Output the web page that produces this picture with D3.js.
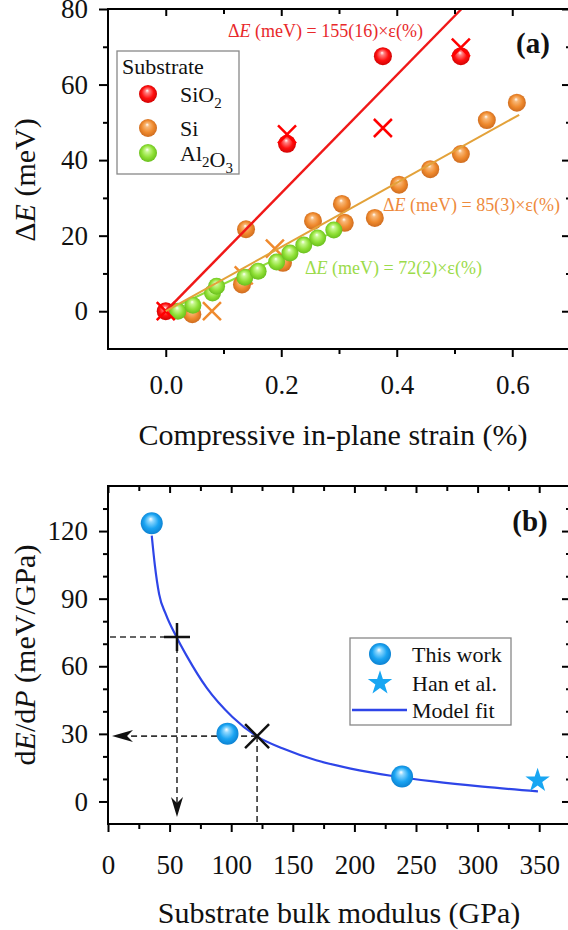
<!DOCTYPE html>
<html><head><meta charset="utf-8">
<script src="https://cdn.jsdelivr.net/npm/d3@7"></script>
</head><body style="margin:0">
<svg id="c" width="568" height="930" style="display:block;background:#fff"></svg>
<script>
// ---------- Panel (a) data ----------
const sio2Strain = [0, 0.21, 0.376, 0.511];
const sio2DE = [0, 44.3, 67.5, 67.5];
const sio2CrossStrain = [0, 0.21, 0.376, 0.511];
const sio2CrossDE = [0, 46.8, 48.5, 69.8];
const siStrain = [0.046, 0.132, 0.139, 0.203, 0.255, 0.305, 0.31, 0.362, 0.404, 0.458, 0.511, 0.556, 0.608];
const siDE = [-0.8, 7.1, 21.7, 12.8, 23.9, 28.4, 23.4, 24.7, 33.5, 37.6, 41.6, 50.6, 55.2];
const siCrossStrain = [0.08, 0.135, 0.189];
const siCrossDE = [0, 9.5, 16.6];
const al2o3Strain = [0.021, 0.047, 0.081, 0.088, 0.137, 0.16, 0.192, 0.215, 0.239, 0.263, 0.291];
const al2o3DE = [0, 1.6, 4.8, 6.6, 9.0, 10.6, 13.0, 15.4, 17.5, 19.4, 21.5];
// fit lines: [start strain, start dE, end strain, end dE]
const fitSiO2 = [0, 0, 0.512, 80];
const fitSi = [0, 0, 0.612, 52];
const fitAl2O3 = [0, 0, 0.291, 21];
const fitLabels = ["155(16)", "85(3)", "72(2)"];
const xTicksA = [0, 0.2, 0.4, 0.6];
const xMinorA = [0.1, 0.3, 0.5];
const yTicksA = [0, 20, 40, 60, 80];
const yMinorA = [10, 30, 50, 70];

// ---------- Panel (b) data ----------
const thisWorkModulus = [35.5, 97, 238.7];
const thisWorkSlope = [123.5, 30.1, 11.1];
const hanModulus = [348.7];
const hanSlope = [9.3];
const fitModulus = [35.5, 38, 41.5, 47, 55.6, 64, 80, 101, 120.5, 142, 169, 197, 231, 264, 304, 349];
const fitSlope = [118, 105, 92, 83, 73, 64.5, 50.5, 37.5, 29, 23.5, 18.3, 14.6, 11.3, 8.9, 6.6, 4.5];
const guideModulus = [56, 121];
const guideSlope = [73, 29];
const xTicksB = [0, 50, 100, 150, 200, 250, 300, 350];
const xMinorB = [25, 75, 125, 175, 225, 275, 325];
const yTicksB = [0, 30, 60, 90, 120];
const yMinorB = [10, 20, 40, 50, 70, 80, 100, 110, 130];

const SERIF = ["Liberation Serif", "Tinos", "Times New Roman", "FreeSerif"].map(f => `"${f}"`).join(", ") + ", cursive";
const svg = d3.select("#c");
const defs = svg.append("defs");
function sphere(id, light, base, dark) {
  const g = defs.append("radialGradient").attr("id", id)
    .attr("cx", "50%").attr("cy", "50%").attr("r", "55%").attr("fx", "45%").attr("fy", "30%");
  [["0%", "#ffffff"], ["20%", light], ["60%", base], ["100%", dark]].forEach(s =>
    g.append("stop").attr("offset", s[0]).attr("stop-color", s[1]));
}
sphere("gRed", "#ff8080", "#ff1010", "#c80000");
sphere("gOrg", "#f8b878", "#ef8a2e", "#c8661c");
sphere("gGrn", "#c8f890", "#8fe036", "#62b818");
sphere("gBlu", "#8fd8ff", "#1aa4f2", "#0a7ccc");

function drawAxes(x, y, xMaj, xMin, yMaj, yMin, xFmt, padB, padL) {
  const [x0, x1] = x.range(), [yb, yt] = y.range();
  const style = s => {
    s.select(".domain").remove();
    s.attr("font-family", null).attr("font-size", null);
    s.selectAll("line").attr("stroke", "#000").attr("stroke-width", 2);
    s.selectAll("text").style("font-size", "27px").attr("fill", "#111");
  };
  svg.append("g").attr("transform", `translate(0,${yb})`)
    .call(d3.axisBottom(x).tickValues(xMaj).tickSize(8).tickPadding(padB).tickFormat(xFmt)).call(style);
  svg.append("g").attr("transform", `translate(0,${yb})`)
    .call(d3.axisBottom(x).tickValues(xMin).tickSize(5).tickFormat("")).call(style);
  svg.append("g").attr("transform", `translate(0,${yt})`)
    .call(d3.axisTop(x).tickValues(xMaj).tickSize(-7).tickFormat("")).call(style);
  svg.append("g").attr("transform", `translate(0,${yt})`)
    .call(d3.axisTop(x).tickValues(xMin).tickSize(-5).tickFormat("")).call(style);
  svg.append("g").attr("transform", `translate(${x0},0)`)
    .call(d3.axisLeft(y).tickValues(yMaj).tickSize(9).tickPadding(padL).tickFormat(d3.format("d"))).call(style);
  svg.append("g").attr("transform", `translate(${x0},0)`)
    .call(d3.axisLeft(y).tickValues(yMin).tickSize(5).tickFormat("")).call(style);
  svg.append("g").attr("transform", `translate(${x1},0)`)
    .call(d3.axisRight(y).tickValues(yMaj).tickSize(-8).tickFormat("")).call(style);
  svg.append("g").attr("transform", `translate(${x1},0)`)
    .call(d3.axisRight(y).tickValues(yMin).tickSize(-4).tickFormat("")).call(style);
  svg.append("rect").attr("x", x0).attr("y", yt).attr("width", x1 - x0).attr("height", yb - yt)
    .attr("fill", "none").attr("stroke", "#000").attr("stroke-width", 2);
}
function cross(g, cx, cy, h, color, w) {
  g.append("path").attr("d", `M${cx - h},${cy - h}L${cx + h},${cy + h}M${cx - h},${cy + h}L${cx + h},${cy - h}`)
    .attr("stroke", color).attr("stroke-width", w).attr("fill", "none");
}
function sub(t, parts) {
  parts.forEach(p => {
    if (p[1]) { t.append("tspan").style("font-size", "15px").attr("dy", 6).text(p[0]); t.append("tspan").attr("dy", -6).text(""); }
    else t.append("tspan").text(p[0]);
  });
}
function txt(x, y, size, s) {
  return svg.append("text").attr("x", x).attr("y", y).style("font-size", size + "px").attr("fill", "#111").text(s || null);
}

// ================= Panel (a) =================
const xA = d3.scaleLinear([-0.1, 0.7], [108, 570]);
const yA = d3.scaleLinear([-10, 80], [349, 9]);
const pa = svg.append("g");
const lineA = d3.line().x(d => xA(d[0])).y(d => yA(d[1]));
pa.append("path").attr("d", lineA([[fitAl2O3[0], fitAl2O3[1]], [fitAl2O3[2], fitAl2O3[3]]]))
  .attr("stroke", "#8fdc3a").attr("stroke-width", 2).attr("fill", "none");
siCrossStrain.forEach((s, i) => cross(pa, xA(s), yA(siCrossDE[i]), 9, "#ef8a2e", 2.5));
sio2Strain.forEach((s, i) => pa.append("circle").attr("cx", xA(s)).attr("cy", yA(sio2DE[i])).attr("r", 9).attr("fill", "url(#gRed)"));
siStrain.forEach((s, i) => pa.append("circle").attr("cx", xA(s)).attr("cy", yA(siDE[i])).attr("r", 9).attr("fill", "url(#gOrg)"));
al2o3Strain.forEach((s, i) => pa.append("circle").attr("cx", xA(s)).attr("cy", yA(al2o3DE[i])).attr("r", 8.5).attr("fill", "url(#gGrn)"));
sio2CrossStrain.forEach((s, i) => cross(pa, xA(s), yA(sio2CrossDE[i]), 9, "#ff0000", 2.5));
pa.append("path").attr("d", lineA([[fitSiO2[0], fitSiO2[1]], [fitSiO2[2], fitSiO2[3]]]))
  .attr("stroke", "#f01818").attr("stroke-width", 2.5).attr("fill", "none");
pa.append("path").attr("d", lineA([[fitSi[0], fitSi[1]], [fitSi[2], fitSi[3]]]))
  .attr("stroke", "#e3a23a").attr("stroke-width", 2).attr("fill", "none");

drawAxes(xA, yA, xTicksA, xMinorA, yTicksA, yMinorA, d3.format(".1f"), 18, 11);

function deLabel(x, y, color, val) {
  const t = txt(x, y, 18).attr("fill", color);
  t.append("tspan").text("Δ");
  t.append("tspan").attr("font-style", "italic").text("E");
  t.append("tspan").text(` (meV) = ${val}×ε(%)`);
}
deLabel(228, 37, "#e8282a", fitLabels[0]);
deLabel(383, 211, "#ee8a3c", fitLabels[1]);
deLabel(305, 274, "#9bdb4a", fitLabels[2]);

txt(533, 53, 29, "(a)").attr("text-anchor", "middle").attr("font-weight", "bold");

// legend (a)
svg.append("rect").attr("x", 117).attr("y", 51).attr("width", 122).attr("height", 123)
  .attr("fill", "#fff").attr("stroke", "#888").attr("stroke-width", 1.3);
txt(122, 74, 22, "Substrate");
const legA = [["gRed", [["SiO"], ["2", 1]], 94], ["gOrg", [["Si"]], 128], ["gGrn", [["Al"], ["2", 1], ["O"], ["3", 1]], 153]];
legA.forEach(l => {
  svg.append("circle").attr("cx", 148).attr("cy", l[2]).attr("r", 9).attr("fill", `url(#${l[0]})`);
  sub(txt(180, l[2] + 8, 22), l[1]);
});

// axis titles (a)
txt(333, 445, 30, "Compressive in-plane strain (%)").attr("text-anchor", "middle");
{
  const t = svg.append("text").attr("transform", "translate(35,180) rotate(-90)").attr("text-anchor", "middle")
    .style("font-size", "30px").attr("fill", "#111");
  t.append("tspan").text("Δ");
  t.append("tspan").attr("font-style", "italic").text("E");
  t.append("tspan").text(" (meV)");
}

// ================= Panel (b) =================
const xB = d3.scaleLinear([0, 375], [108, 570]);
const yB = d3.scaleLinear([-10, 140], [824, 486]);
const pb = svg.append("g");
pb.append("path").attr("d", d3.line().curve(d3.curveMonotoneX).x((d, i) => xB(fitModulus[i])).y((d, i) => yB(fitSlope[i]))(fitModulus))
  .attr("stroke", "#2e45e8").attr("stroke-width", 2.2).attr("fill", "none");

const gx0 = xB(guideModulus[0]), gy0 = yB(guideSlope[0]);
const gx1 = xB(guideModulus[1]), gy1 = yB(guideSlope[1]);
function dl(x1, y1, x2, y2) {
  pb.append("line").attr("x1", x1).attr("y1", y1).attr("x2", x2).attr("y2", y2)
    .attr("stroke", "#333").attr("stroke-width", 1.6).attr("stroke-dasharray", "6,4");
}
dl(xB(0) + 2, gy0, gx0, gy0);
dl(gx0, gy0, gx0, 806);
dl(gx1, gy1, 122, gy1);
dl(gx1, gy1, gx1, yB(-10));
pb.append("path").attr("d", `M${gx0},817L${gx0 - 6},797L${gx0},803L${gx0 + 6},797Z`).attr("fill", "#111");
pb.append("path").attr("d", `M112,${gy1}L133,${gy1 - 6}L127,${gy1}L133,${gy1 + 6}Z`).attr("fill", "#111");

thisWorkModulus.forEach((m, i) => pb.append("circle").attr("cx", xB(m)).attr("cy", yB(thisWorkSlope[i])).attr("r", 11).attr("fill", "url(#gBlu)"));
hanModulus.forEach((m, i) => pb.append("path").attr("d", d3.symbol(d3.symbolStar, 185)())
  .attr("transform", `translate(${xB(m)},${yB(hanSlope[i])})`).attr("fill", "#18a6f2"));

pb.append("path").attr("d", `M${gx0 - 13},${gy0}L${gx0 + 13},${gy0}M${gx0},${gy0 - 14}L${gx0},${gy0 + 14}`)
  .attr("stroke", "#111").attr("stroke-width", 2.5);
cross(pb, gx1, gy1, 12, "#111", 2.5);

drawAxes(xB, yB, xTicksB, xMinorB, yTicksB, yMinorB, d3.format("d"), 23, 11);

txt(530, 531, 29, "(b)").attr("text-anchor", "middle").attr("font-weight", "bold");

// legend (b)
svg.append("rect").attr("x", 350).attr("y", 638).attr("width", 161).attr("height", 87)
  .attr("fill", "#fff").attr("stroke", "#888").attr("stroke-width", 1.3);
svg.append("circle").attr("cx", 380).attr("cy", 654).attr("r", 11).attr("fill", "url(#gBlu)");
svg.append("path").attr("d", d3.symbol(d3.symbolStar, 185)()).attr("transform", "translate(380,683)").attr("fill", "#18a6f2");
svg.append("line").attr("x1", 352).attr("x2", 407).attr("y1", 710).attr("y2", 710).attr("stroke", "#2e45e8").attr("stroke-width", 2.5);
[["This work", 662], ["Han et al.", 691], ["Model fit", 718]].forEach(d => txt(412, d[1], 22, d[0]));

// axis titles (b)
txt(339, 923, 30, "Substrate bulk modulus (GPa)").attr("text-anchor", "middle");
{
  const t = svg.append("text").attr("transform", "translate(35,655) rotate(-90)").attr("text-anchor", "middle")
    .style("font-size", "30px").attr("fill", "#111");
  t.append("tspan").text("d");
  t.append("tspan").attr("font-style", "italic").text("E");
  t.append("tspan").text("/d");
  t.append("tspan").attr("font-style", "italic").text("P");
  t.append("tspan").text(" (meV/GPa)");
}

// serif font on every text and tspan, as an inline style
svg.style("font-family", SERIF, "important");
svg.selectAll("text, tspan").style("font-family", SERIF, "important");
</script></body></html>
